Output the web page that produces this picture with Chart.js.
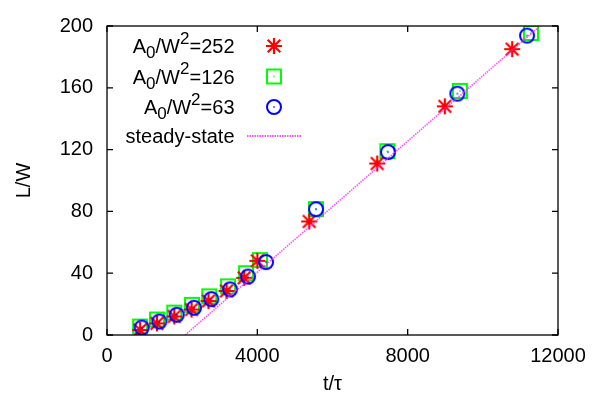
<!DOCTYPE html>
<html>
<head>
<meta charset="utf-8">
<script src="https://cdn.jsdelivr.net/npm/chart.js@4"></script>
<style>
html,body{margin:0;padding:0;background:#fff;}
#wrap{width:604px;height:396px;}
</style>
</head>
<body>
<div id="wrap"><canvas id="c" width="604" height="396"></canvas></div>
<script>
// ---- data ----
const tStar = [880, 1330, 1790, 2250, 2700, 3180, 3650, 4000, 5380, 7190, 8990, 10780];
const LStar = [3.2, 7.5, 12, 16.5, 22, 28.5, 37, 48, 73.5, 111, 148, 185];

const tSquare = [880, 1330, 1790, 2260, 2720, 3220, 3700, 4070, 5560, 7460, 9390, 11280];
const LSquare = [5.5, 10, 14.5, 19.5, 25, 31.5, 40, 48.5, 81.5, 119, 158, 195.5];

const tCircle = [923, 1392, 1855, 2315, 2775, 3273, 3752, 4231, 5561, 7477, 9322, 11176];
const LCircle = [4.8, 8.7, 13.1, 17.6, 23.2, 29.5, 37.8, 47.2, 81.4, 118.4, 156.2, 193.8];

const tSteady = [2080, 11520];
const LSteady = [0, 200];

const labels = ['A0/W2=252', 'A0/W2=126', 'A0/W2=63', 'steady-state'];
const xTicks = [0, 4000, 8000, 12000];
const yTicks = [0, 40, 80, 120, 160, 200];

const pts = (xs, ys) => xs.map((x, i) => ({x: x, y: ys[i]}));

// ---- marker images ----
function makeCanvas(s){ const c=document.createElement('canvas'); c.width=s; c.height=s; return c; }
function starImg(){
  const c=makeCanvas(20), g=c.getContext('2d'); const m=10;
  g.strokeStyle='#ff0000'; g.lineWidth=2.2; g.lineCap='butt';
  g.beginPath();
  g.moveTo(m-8,m); g.lineTo(m+8,m);
  g.moveTo(m,m-8); g.lineTo(m,m+8);
  g.moveTo(m-6.3,m-6.3); g.lineTo(m+6.3,m+6.3);
  g.moveTo(m-6.3,m+6.3); g.lineTo(m+6.3,m-6.3);
  g.stroke();
  return c;
}
function squareImg(){
  const c=makeCanvas(20), g=c.getContext('2d');
  g.strokeStyle='#00ff00'; g.fillStyle='#00ff00'; g.lineWidth=2;
  g.strokeRect(3,3,14,14);
  g.fillRect(9.3,9.3,1.4,1.4);
  return c;
}
function circleImg(){
  const c=makeCanvas(20), g=c.getContext('2d');
  g.strokeStyle='#0000ff'; g.fillStyle='#0000ff'; g.lineWidth=2;
  g.beginPath(); g.arc(10,10,7,0,Math.PI*2); g.stroke();
  g.fillRect(9.3,9.3,1.4,1.4);
  return c;
}
const imgStar = starImg(), imgSquare = squareImg(), imgCircle = circleImg();

const FONT = 'Liberation Sans, Arial, Helvetica, sans-serif';
const FS = 20;
const LINE_COLOR = 'rgba(255,40,255,0.8)';

// ---- custom frame, inward ticks and gnuplot-style key ----
const framePlugin = {
  id: 'frame',
  afterDatasetsDraw(chart){
    const {ctx, chartArea: a, scales: {x, y}} = chart;
    ctx.save();
    ctx.strokeStyle = '#000'; ctx.lineWidth = 1.3;
    ctx.strokeRect(a.left, a.top, a.right - a.left, a.bottom - a.top);
    const tl = 6;
    ctx.beginPath();
    xTicks.forEach(v => {
      const px = x.getPixelForValue(v);
      ctx.moveTo(px, a.bottom); ctx.lineTo(px, a.bottom - tl);
      ctx.moveTo(px, a.top); ctx.lineTo(px, a.top + tl);
    });
    yTicks.forEach(v => {
      const py = y.getPixelForValue(v);
      ctx.moveTo(a.left, py); ctx.lineTo(a.left + tl, py);
      ctx.moveTo(a.right, py); ctx.lineTo(a.right - tl, py);
    });
    ctx.stroke();

    // key
    const rightX = 234.5, markX = 274, rows = [46, 76.5, 107, 136];
    const imgs = [imgStar, imgSquare, imgCircle];
    chart.data.datasets.forEach((ds, i) => {
      const cy = rows[i];
      const base = cy + 7;
      let parts;
      const m = ds.label.match(/^A0\/W2=(\d+)$/);
      if (m) {
        parts = [
          {t:'A', s:FS, dy:0},
          {t:'0', s:FS*0.85, dy:5},
          {t:'/W', s:FS, dy:0},
          {t:'2', s:FS*0.85, dy:-9.5},
          {t:'=' + m[1], s:FS, dy:0}
        ];
      } else {
        parts = [{t:ds.label, s:FS, dy:0}];
      }
      let total = 0;
      parts.forEach(p => { ctx.font = p.s + 'px ' + FONT; p.w = ctx.measureText(p.t).width; total += p.w; });
      let xx = rightX - total;
      ctx.fillStyle = '#000'; ctx.textBaseline = 'alphabetic'; ctx.textAlign = 'left';
      parts.forEach(p => { ctx.font = p.s + 'px ' + FONT; ctx.fillText(p.t, xx, base + p.dy); xx += p.w; });
      if (i < 3) {
        ctx.drawImage(imgs[i], markX - 10, cy - 10);
      } else {
        ctx.strokeStyle = LINE_COLOR; ctx.lineWidth = 2.2;
        ctx.setLineDash([1.5, 1]);
        ctx.beginPath(); ctx.moveTo(247, cy); ctx.lineTo(302, cy); ctx.stroke();
        ctx.setLineDash([]);
      }
    });
    ctx.restore();
  }
};

new Chart(document.getElementById('c'), {
  type: 'scatter',
  data: {
    datasets: [
      {label: labels[0], data: pts(tStar, LStar), pointStyle: imgStar, order: 2, showLine: false},
      {label: labels[1], data: pts(tSquare, LSquare), pointStyle: imgSquare, order: 3, showLine: false},
      {label: labels[2], data: pts(tCircle, LCircle), pointStyle: imgCircle, order: 1, showLine: false},
      {label: labels[3], data: pts(tSteady, LSteady), showLine: true, pointRadius: 0, pointHoverRadius: 0,
       borderColor: LINE_COLOR, borderWidth: 1.6, borderDash: [1.5, 1], order: 0, fill: false}
    ]
  },
  options: {
    responsive: false,
    animation: false,
    devicePixelRatio: 1,
    layout: {padding: {left: 0, right: 46, top: 14, bottom: 0}},
    plugins: {legend: {display: false}, tooltip: {enabled: false}},
    scales: {
      x: {
        type: 'linear', min: 0, max: 12000,
        afterBuildTicks: s => { s.ticks = xTicks.map(v => ({value: v})); },
        afterFit: s => { s.height = 61; },
        grid: {display: false, drawTicks: false},
        border: {display: false},
        ticks: {color: '#000', font: {family: FONT, size: FS}, padding: 9, maxRotation: 0, autoSkip: false,
                callback: v => String(v)},
        title: {display: true, text: 't/τ', color: '#000', font: {family: FONT, size: FS}, padding: {top: 0, bottom: 0}}
      },
      y: {
        type: 'linear', min: 0, max: 200,
        afterBuildTicks: s => { s.ticks = yTicks.map(v => ({value: v})); },
        afterFit: s => { s.width = 107; },
        grid: {display: false, drawTicks: false},
        border: {display: false},
        ticks: {color: '#000', font: {family: FONT, size: FS}, padding: 14, autoSkip: false,
                callback: v => String(v)},
        title: {display: true, text: 'L/W', color: '#000', font: {family: FONT, size: FS}, padding: {top: 12, bottom: 0}}
      }
    }
  },
  plugins: [framePlugin]
});
</script>
</body>
</html>
